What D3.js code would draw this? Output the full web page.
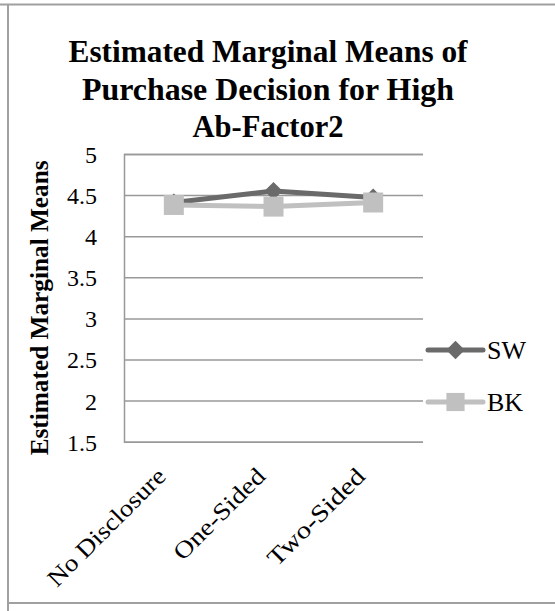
<!DOCTYPE html>
<html>
<head>
<meta charset="utf-8">
<script src="https://cdn.jsdelivr.net/npm/d3@7"></script>
<style>
  html, body { margin: 0; padding: 0; background: #fff; }
  svg { display: block; }
  text { font-family: "Liberation Serif", "Times New Roman", serif; fill: #000; }
</style>
</head>
<body>
<svg id="chart" width="555" height="611"></svg>
<script>
// Chart data
const categories = ["No Disclosure", "One-Sided", "Two-Sided"];
const seriesNames = ["SW", "BK"];
const swValues = [4.41, 4.55, 4.47];
const bkValues = [4.38, 4.36, 4.41];
const yTicks = [1.5, 2, 2.5, 3, 3.5, 4, 4.5, 5];
const titleLines = ["Estimated Marginal Means of", "Purchase Decision for High", "Ab-Factor2"];
const yTitle = "Estimated Marginal Means";

const svg = d3.select("#chart");
const W = 555, H = 611;
const serif = "'Liberation Serif', 'Times New Roman', serif";

// outer chart frame (left, top, bottom edges)
const frame = svg.append("g").attr("stroke", "#a0a0a0").attr("stroke-width", 2).attr("fill", "none");
frame.append("line").attr("x1", 0).attr("x2", W).attr("y1", 4.5).attr("y2", 4.5);
frame.append("line").attr("x1", 8).attr("x2", 8).attr("y1", 4).attr("y2", H);
frame.append("line").attr("x1", 8).attr("x2", W).attr("y1", 603).attr("y2", 603);

const plot = { left: 124, right: 423, top: 154, bottom: 441.7 };

const x = d3.scalePoint().domain(categories).range([plot.left, plot.right]).padding(0.5);
const y = d3.scaleLinear().domain([1.5, 5]).range([plot.bottom, plot.top]);

// title, three centred lines
const titleWidths = [399, 372, 151];
const title = svg.append("g");
titleLines.forEach((t, i) => {
  title.append("text")
    .attr("x", 268).attr("y", 62 + i * 37.5)
    .attr("text-anchor", "middle")
    .attr("font-size", 32).attr("font-weight", "bold")
    .attr("textLength", titleWidths[i]).attr("lengthAdjust", "spacingAndGlyphs")
    .text(t);
});

// value axis with horizontal gridlines
const yAxis = d3.axisLeft(y).tickValues(yTicks).tickFormat(d3.format(""))
  .tickSize(-(plot.right - plot.left)).tickPadding(27);
const gy = svg.append("g").attr("transform", `translate(${plot.left},0)`).call(yAxis)
  .attr("font-family", serif).attr("font-size", 24);
gy.select(".domain").attr("stroke", "#999").attr("stroke-width", 1.5);
gy.selectAll(".tick line").attr("stroke", "#999").attr("stroke-width", 1.5);
gy.selectAll(".tick text")
  .style("font-family", serif)
  .style("font-size", "24px").attr("fill", "#000")
  .attr("dy", "0.35em");

// value axis title
svg.append("text")
  .attr("transform", `translate(48,${(plot.top + plot.bottom) / 2 + 10}) rotate(-90)`)
  .attr("text-anchor", "middle")
  .attr("font-size", 25).attr("font-weight", "bold")
  .attr("textLength", 295).attr("lengthAdjust", "spacingAndGlyphs")
  .text(yTitle);

// category labels, slanted
const labelLengths = { "No Disclosure": 156, "One-Sided": 119, "Two-Sided": 127 };
const xAxis = d3.axisBottom(x).tickSize(0).tickPadding(0);
const gx = svg.append("g").attr("transform", `translate(0,${plot.bottom})`).call(xAxis)
  .attr("font-family", serif).attr("font-size", 24);
gx.select(".domain").remove();
gx.selectAll(".tick text")
  .style("font-family", serif)
  .style("font-size", "24px").attr("fill", "#000")
  .attr("text-anchor", "end")
  .attr("transform", "translate(-13,30) rotate(-45)")
  .attr("x", 0).attr("y", 0).attr("dy", "0.35em")
  .attr("textLength", d => labelLengths[d]).attr("lengthAdjust", "spacingAndGlyphs");

// series lines and markers
const series = [
  { name: seriesNames[0], values: swValues, color: "#6a6a6a", marker: d3.symbolSquare, size: 165, rot: 45 },
  { name: seriesNames[1], values: bkValues, color: "#c0c0c0", marker: d3.symbolSquare, size: 400, rot: 0 }
];

const line = d3.line().x((d, i) => x(categories[i])).y(d => y(d));

series.forEach(s => {
  const g = svg.append("g");
  g.append("path").datum(s.values)
    .attr("d", line).attr("fill", "none")
    .attr("stroke", s.color).attr("stroke-width", 5)
    .attr("stroke-linejoin", "round").attr("stroke-linecap", "round");
  g.selectAll("path.mk").data(s.values).join("path").attr("class", "mk")
    .attr("transform", (d, i) => `translate(${x(categories[i])},${y(d)}) rotate(${s.rot})`)
    .attr("d", d3.symbol(s.marker, s.size))
    .attr("fill", s.color);
});

// legend
const legend = svg.append("g");
series.forEach((s, i) => {
  const ly = 350 + i * 52;
  const g = legend.append("g").attr("transform", `translate(0,${ly})`);
  g.append("line").attr("x1", 428).attr("x2", 483).attr("y1", 0).attr("y2", 0)
    .attr("stroke", s.color).attr("stroke-width", 5).attr("stroke-linecap", "round");
  g.append("path").attr("transform", `translate(455.5,0) rotate(${s.rot})`)
    .attr("d", d3.symbol(s.marker, i === 0 ? 170 : 330)).attr("fill", s.color);
  g.append("text").attr("x", 487).attr("y", 0).attr("dy", "0.35em")
    .attr("font-size", 26).text(s.name);
});
</script>
</body>
</html>
